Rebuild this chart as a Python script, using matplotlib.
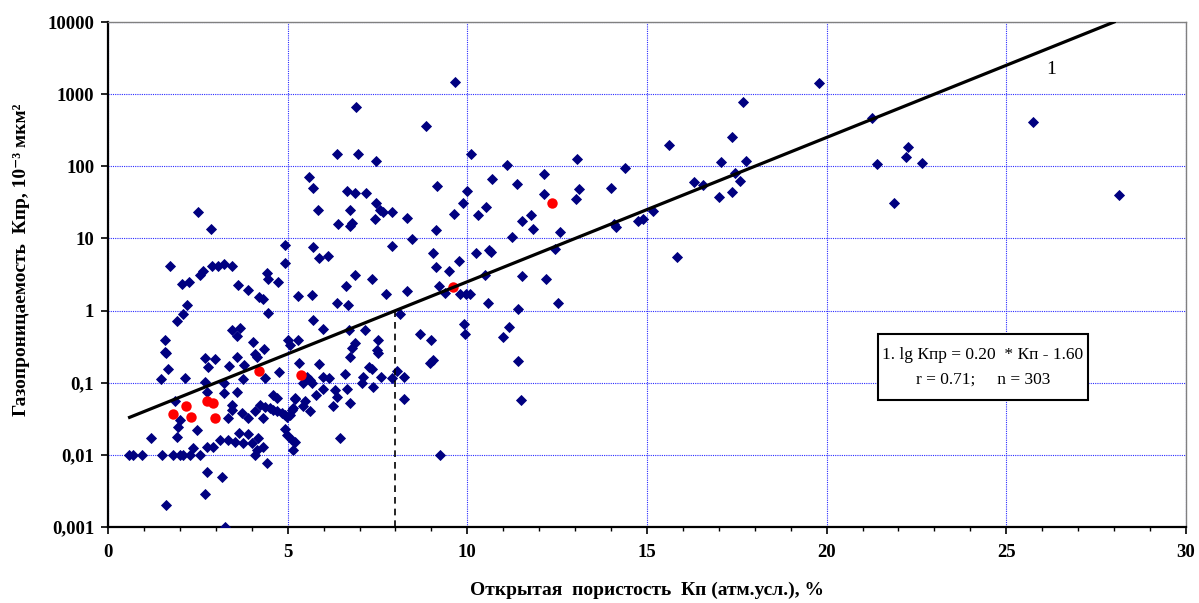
import matplotlib
matplotlib.use("Agg")
import matplotlib.pyplot as plt
import numpy as np
from matplotlib.ticker import FixedLocator, FixedFormatter, MultipleLocator
from matplotlib.patches import Rectangle

plt.rcParams['font.family'] = ['Liberation Serif', 'DejaVu Serif']

# open porosity Kp, % and gas permeability Kpr, 10^-3 um^2 (all samples)
kp = [2.51, 2.86, 1.73, 4.93, 4.93, 2.56, 2.65, 2.89, 3.07, 3.23, 3.44, 2.05, 2.24, 3.63,
      3.90, 4.21, 4.32, 4.42, 4.46, 4.74, 2.21, 2.10, 1.91, 4.46, 5.30, 3.44, 3.67, 3.60,
      4.03, 1.59, 5.02, 5.07, 5.30, 4.35,
      1.59, 1.61, 1.68, 1.48, 2.14, 2.70, 2.98, 2.79, 2.70, 2.76, 3.58, 3.38, 3.79, 4.09,
      4.14, 4.77, 3.75, 4.37, 3.23, 3.23, 3.58, 4.58, 4.69, 1.86, 2.00, 1.96, 1.91, 2.47,
      1.19, 3.44, 3.44, 3.35, 3.72, 3.90, 4.09, 4.23, 4.37, 4.51, 4.60, 4.69, 4.83, 4.93,
      4.97, 5.11, 5.16, 4.30, 5.20,
      0.57, 0.70, 0.94, 1.49, 1.82, 2.00, 2.10, 2.28, 2.56,
      2.37, 2.76, 2.93, 3.12, 3.35, 3.53, 3.77, 4.00, 4.18, 3.65, 3.90, 4.14, 4.32, 4.09,
      4.42, 5.11, 5.16, 4.93, 4.97, 2.76, 3.16, 2.70, 1.61, 3.26,
      5.32, 5.88, 5.53, 5.62, 5.44, 5.67, 5.99, 6.16, 5.99, 5.79, 5.20, 5.48, 5.42, 5.62,
      5.07, 5.20, 6.60, 6.64, 6.32, 6.37, 6.74, 6.27, 6.46, 7.09, 7.06, 7.25, 7.34, 7.59,
      7.37, 7.90, 8.03, 8.24, 8.24, 6.74, 6.78, 6.87, 7.48, 7.52, 7.52, 8.96, 9.04, 9.00,
      9.24,
      6.36, 6.97, 7.46, 10.10, 5.60, 5.70, 5.85, 6.64, 6.87, 7.18, 7.46, 7.57, 7.66, 7.90,
      6.74, 7.43, 6.41, 6.78, 6.74, 8.33, 9.15, 10.00, 9.87, 9.64, 9.13, 10.52, 10.31, 8.45,
      7.90, 5.70, 5.88, 6.13, 9.05, 9.13, 9.50, 9.78, 10.24, 10.61, 6.87, 7.34, 6.62, 6.69,
      6.36, 5.67, 7.74, 8.31, 9.22, 9.38, 9.80, 9.96, 10.08, 10.58, 8.13, 5.70, 5.98, 6.72,
      7.15, 8.68, 9.91, 9.94,
      9.66, 6.90, 8.85, 15.62, 13.04, 11.11, 14.39, 10.68, 11.37, 12.14, 12.14, 13.10, 13.02,
      14.00, 16.30, 11.77, 11.53, 11.84, 12.58, 11.24, 10.66, 12.44, 14.09, 14.14, 14.76,
      14.90, 15.18, 15.83, 10.49, 11.51, 12.19, 11.42, 12.53, 11.16, 10.99, 11.42, 11.49,
      19.79, 17.68, 17.38, 21.25, 17.07, 17.76, 16.55, 17.45, 17.59, 17.01, 17.38, 21.39,
      21.88, 22.27, 22.21, 22.65, 25.73, 28.15]
kpr = [23.5, 13.4, 4.2, 8.1, 4.5, 3.1, 3.5, 4.1, 4.1, 4.4, 4.2, 2.3, 2.5, 2.26,
       1.93, 1.56, 1.45, 3.35, 2.7, 2.47, 1.19, 0.89, 0.72, 0.93, 1.6, 0.54, 0.57, 0.44,
       0.37, 0.39, 0.39, 0.33, 0.39, 0.29,
       0.27, 0.26, 0.153, 0.111, 0.115, 0.218, 0.211, 0.167, 0.103, 0.075, 0.23, 0.171, 0.176, 0.25,
       0.23, 0.142, 0.111, 0.115, 0.1, 0.073, 0.075, 0.068, 0.061, 0.055, 0.030, 0.0245, 0.0175, 0.022,
       0.017, 0.049, 0.042, 0.032, 0.0376, 0.032, 0.040, 0.049, 0.0466, 0.0442, 0.042, 0.040, 0.0376, 0.0356,
       0.034, 0.042, 0.044, 0.032, 0.061,
       0.01, 0.01, 0.01, 0.01, 0.01, 0.01, 0.01, 0.01, 0.01,
       0.0123, 0.0127, 0.013, 0.016, 0.016, 0.0152, 0.0144, 0.0144, 0.017, 0.0199, 0.0194, 0.0117, 0.013, 0.0099,
       0.0076, 0.016, 0.0117, 0.023, 0.019, 0.0057, 0.0049, 0.0029, 0.002, 0.001,
       0.186, 0.18, 0.121, 0.109, 0.098, 0.098, 0.119, 0.115, 0.081, 0.068, 0.059, 0.055, 0.047, 0.040,
       0.036, 0.015, 0.132, 0.081, 0.079, 0.064, 0.052, 0.0475, 0.017, 0.119, 0.098, 0.167, 0.153, 0.121,
       0.088, 0.115, 0.147, 0.119, 0.059, 0.23, 0.30, 0.35, 0.28, 0.255, 0.39, 0.186, 0.206, 0.39,
       0.0101,
       148, 148, 119, 148, 72, 50, 25, 46, 43, 42, 30.7, 25, 23.5, 23,
       25, 18.6, 15.8, 16.2, 14.9, 19, 53, 46, 31, 22, 13.1, 27, 21, 9.8,
       7.9, 7.5, 5.4, 5.7, 6.3, 4.0, 3.5, 4.9, 6.2, 6.9, 3.1, 2.7, 2.19, 1.19,
       1.29, 1.64, 1.68, 1.88, 2.19, 1.74, 1.7, 1.7, 1.7, 1.26, 0.9, 0.74, 0.55, 0.54,
       0.53, 0.47, 0.65, 0.47,
       1460, 660, 365, 197, 127, 105, 94, 66, 56, 77, 41, 48, 35,
       50, 60, 21, 17.3, 13.4, 12.4, 10.5, 6.5, 7.1, 15.8, 14.5, 17.4,
       18.7, 24, 5.5, 3.1, 3.0, 2.7, 1.04, 1.29, 0.6, 0.43, 0.2, 0.058,
       1440, 785, 257, 462, 116, 118, 55, 80, 63, 37, 44, 107,
       31, 183, 136, 110, 415, 40]

# highlighted samples
kp_red = [1.82, 2.17, 2.31, 2.76, 2.91, 2.98, 4.21, 5.36, 9.61, 12.37]
kpr_red = [0.037, 0.048, 0.034, 0.056, 0.052, 0.032, 0.145, 0.127, 2.14, 31]

# regression lg Kpr = a * Kp + b
a, b = 0.20, -1.60
r, n = 0.71, 303
kp_cut = 8

yticks = [0.001, 0.01, 0.1, 1, 10, 100, 1000, 10000]
ylabels = ['0,001', '0,01', '0,1', '1', '10', '100', '1000', '10000']

fig = plt.figure(figsize=(11.99, 6.03), dpi=100)
ax = fig.add_axes([0.0901, 0.126, 0.899, 0.8375])
ax.set_yscale('log')
ax.set_xlim(0, 30)
ax.set_ylim(0.001, 10000)

ax.grid(True, which='major', color='#2b2bff', linestyle=(0, (1, 1)), linewidth=0.8)
ax.set_axisbelow(True)

ax.plot(kp, kpr, linestyle='none', marker='D', ms=4.6, color='#000080',
        markeredgewidth=0.6, zorder=3)
ax.plot(kp_red, kpr_red, linestyle='none', marker='o', ms=7.5, color='#ff0000',
        markeredgewidth=0, zorder=4)

xl = np.linspace(0.6, (4 - b) / a, 50)
ax.plot(xl, 10 ** (a * xl + b), color='black', lw=2.3, zorder=5)
ax.plot([kp_cut, kp_cut], [0.001, 10 ** (a * kp_cut + b)], color='black',
        lw=1.2, linestyle=(0, (4, 3)), zorder=5)

ax.text(26.25, 2200, '1', fontsize=14, ha='center', va='center')

box = Rectangle((0.714, 0.2515), 0.195, 0.1305, transform=ax.transAxes,
                facecolor='white', edgecolor='black', lw=1.5, zorder=6)
ax.add_patch(box)
ax.text(0.8115, 0.341, f'1. lg Кпр = {a:.2f}  * Кп - {abs(b):.2f}', transform=ax.transAxes,
        fontsize=12.5, ha='center', va='center', zorder=7)
ax.text(0.8115, 0.291, f'r = {r:.2f};     n = {n}', transform=ax.transAxes,
        fontsize=12.5, ha='center', va='center', zorder=7)

ax.yaxis.set_major_locator(FixedLocator(yticks))
ax.yaxis.set_major_formatter(FixedFormatter(ylabels))
ax.yaxis.set_minor_locator(FixedLocator([]))
ax.xaxis.set_major_locator(MultipleLocator(5))
ax.xaxis.set_minor_locator(MultipleLocator(1))
ax.tick_params(axis='both', which='major', direction='out', length=5, width=1.2,
               labelsize=13.5, pad=5)
ax.tick_params(axis='x', which='minor', direction='out', length=3, width=1)
ax.tick_params(axis='x', which='major', pad=7)
for lab in ax.get_xticklabels() + ax.get_yticklabels():
    lab.set_fontweight('bold')

for s in ['left', 'bottom']:
    ax.spines[s].set_linewidth(1.6)
    ax.spines[s].set_color('black')
for s in ['top', 'right']:
    ax.spines[s].set_linewidth(1)
    ax.spines[s].set_color('#808080')

ax.set_xlabel('Открытая  пористость  Кп (атм.усл.), %', fontsize=14, fontweight='bold')
ax.set_ylabel('Газопроницаемость  Кпр, 10⁻³ мкм²', fontsize=14, fontweight='bold')
ax.xaxis.set_label_coords(0.5, -0.108)
ax.yaxis.set_label_coords(-0.072, 0.53)

fig.savefig('out.png', dpi=100)
